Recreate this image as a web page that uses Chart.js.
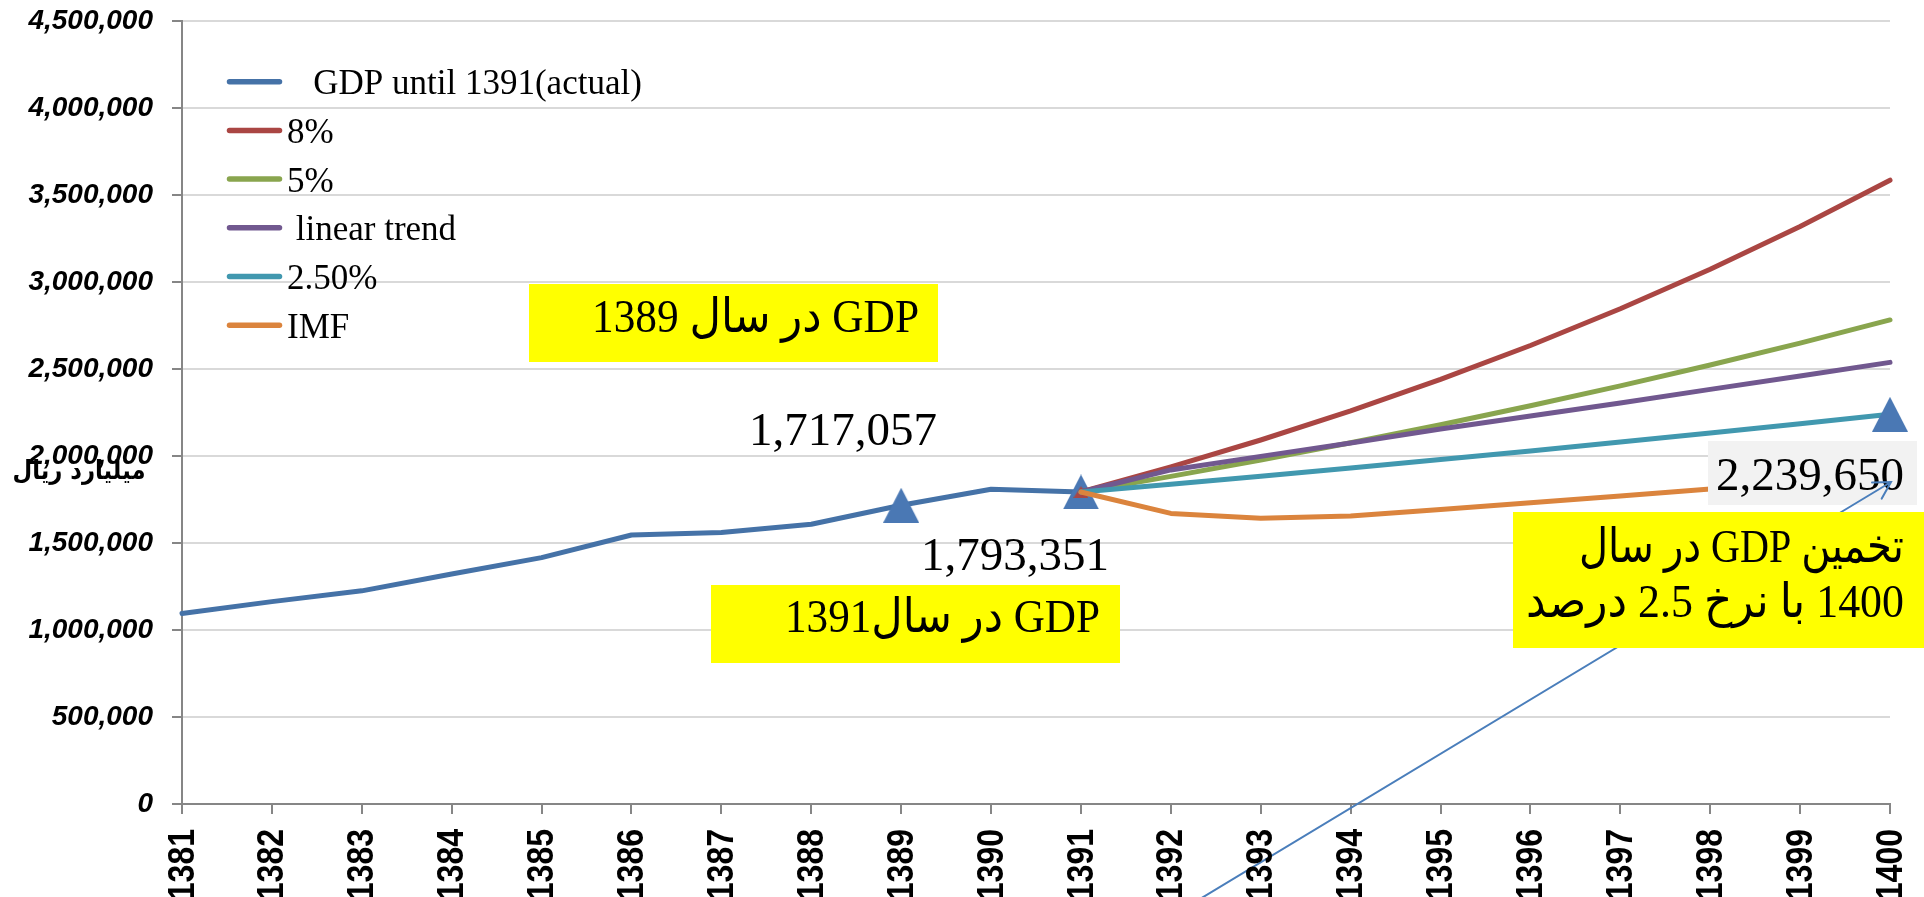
<!DOCTYPE html>
<html>
<head>
<meta charset="utf-8">
<title>GDP projection</title>
<script src="https://cdn.jsdelivr.net/npm/chart.js@4.4.0/dist/chart.umd.min.js"></script>
<style>
  html, body { margin: 0; padding: 0; background: #fff; overflow: hidden; }
  #wrap { width: 1924px; height: 897px; position: relative; }
</style>
</head>
<body>
<div id="wrap"><canvas id="gdpChart"></canvas></div>
<script>
// years (solar hijri) on the x axis
const years = ['1381', '1382', '1383', '1384', '1385', '1386', '1387', '1388', '1389', '1390',
               '1391', '1392', '1393', '1394', '1395', '1396', '1397', '1398', '1399', '1400'];

// billion rial
const actualGDP = [1095000, 1163000, 1225000, 1322000, 1416000, 1546000, 1560000, 1608000, 1717057, 1809000,
                   1793351, null, null, null, null, null, null, null, null, null];
const growth8 = [null, null, null, null, null, null, null, null, null, null,
                 1793351, 1937000, 2092000, 2259000, 2440000, 2635000, 2846000, 3073000, 3319000, 3585000];
const growth5 = [null, null, null, null, null, null, null, null, null, null,
                 1793351, 1883000, 1977000, 2076000, 2180000, 2289000, 2403000, 2523000, 2649000, 2782000];
const linearTrend = [null, null, null, null, null, null, null, null, null, null,
                     1793351, 1920000, 1998000, 2075000, 2155000, 2230000, 2305000, 2383000, 2460000, 2538000];
const growth25 = [null, null, null, null, null, null, null, null, null, null,
                  1793351, 1838000, 1884000, 1931000, 1980000, 2029000, 2080000, 2132000, 2185000, 2239650];
const imfForecast = [null, null, null, null, null, null, null, null, null, null,
                     1793351, 1670000, 1642000, 1655000, 1692000, 1731000, 1770000, 1810000, 1852000, 1895000];

const yTicksMax = 4500000;
const yTicksStep = 500000;

// years that get a triangle marker
const actualMarks = ['1389', '1391'];
const redMarks = ['1391'];
const tealMarks = ['1400'];

// triangle marker images (excel-like, isoceles)
function makeTriangle(w, h, color) {
  const c = document.createElement('canvas');
  c.width = w;
  c.height = h;
  const g = c.getContext('2d');
  g.fillStyle = color;
  g.beginPath();
  g.moveTo(w / 2, 0);
  g.lineTo(w, h);
  g.lineTo(0, h);
  g.closePath();
  g.fill();
  return c;
}
const bigTri = makeTriangle(36, 35, '#4a78b4');
const smallTri = makeTriangle(15, 12, '#aa4643');

function markAt(list, size) {
  return ctx => list.includes(years[ctx.dataIndex]) ? size : 0;
}

const serif = '"Liberation Serif", "Times New Roman", "DejaVu Sans", serif';

// right-aligned rtl text squeezed to the width it has in the original
function fitText(c, text, xRight, y, width) {
  c.save();
  c.direction = 'rtl';
  c.textAlign = 'right';
  const w = c.measureText(text).width;
  c.translate(xRight, y);
  c.scale(width / w, 1);
  c.fillText(text, 0, 0);
  c.restore();
}

// draws the text boxes, arrow, legend, axis title and x labels
const overlays = {
  id: 'overlays',
  afterDatasetsDraw(chart) {
    const c = chart.ctx;
    c.save();
    c.font = '47px ' + serif;
    c.textBaseline = 'alphabetic';

    // GDP 1389 box
    c.fillStyle = '#ffff00';
    c.fillRect(529, 284, 409, 78);
    c.fillStyle = '#000';
    fitText(c, 'GDP در سال 1389', 919, 332, 327);

    // plain value labels
    c.direction = 'ltr';
    c.textAlign = 'left';
    c.fillText('1,717,057', 749, 445);
    c.fillText('1,793,351', 921, 570);

    // GDP 1391 box
    c.fillStyle = '#ffff00';
    c.fillRect(711, 585, 409, 78);
    c.fillStyle = '#000';
    fitText(c, 'GDP در سال1391', 1100, 632, 315);

    // 2,239,650 label
    c.fillStyle = '#f2f2f2';
    c.fillRect(1708, 441, 209, 64);
    c.fillStyle = '#000';
    c.direction = 'ltr';
    c.textAlign = 'left';
    c.fillText('2,239,650', 1716, 490);

    // arrow to the 1400 estimate
    const x0 = 1190, y0 = 905, x1 = 1891, y1 = 482;
    c.strokeStyle = '#4a7ebb';
    c.lineWidth = 2;
    c.lineCap = 'round';
    c.beginPath();
    c.moveTo(x0, y0);
    c.lineTo(x1, y1);
    const ang = Math.atan2(y0 - y1, x0 - x1);
    const arm = 19;
    c.moveTo(x1 + arm * Math.cos(ang + 0.52), y1 + arm * Math.sin(ang + 0.52));
    c.lineTo(x1, y1);
    c.lineTo(x1 + arm * Math.cos(ang - 0.52), y1 + arm * Math.sin(ang - 0.52));
    c.stroke();

    // estimate box
    c.fillStyle = '#ffff00';
    c.fillRect(1513, 512, 411, 136);
    c.fillStyle = '#000';
    fitText(c, 'تخمین GDP در سال', 1904, 562, 325);
    fitText(c, '1400 با نرخ 2.5 درصد', 1904, 617, 378);

    c.restore();
  },
  afterDraw(chart) {
    const c = chart.ctx;
    c.save();

    // legend inside the plot
    chart.data.datasets.forEach((ds, i) => {
      const y = 81.7 + i * 48.7;
      c.strokeStyle = ds.borderColor;
      c.lineWidth = 5.5;
      c.lineCap = 'round';
      c.beginPath();
      c.moveTo(229.5, y);
      c.lineTo(279.5, y);
      c.stroke();
      c.fillStyle = '#000';
      c.font = '35px ' + serif;
      c.textAlign = 'left';
      c.textBaseline = 'alphabetic';
      c.direction = 'ltr';
      c.fillText(ds.label, 287, y + 12.5);
    });

    // y axis title
    c.font = 'bold 26px "DejaVu Sans", sans-serif';
    c.direction = 'rtl';
    c.textAlign = 'center';
    c.textBaseline = 'middle';
    const title = 'میلیارد ریال';
    const w = c.measureText(title).width;
    c.translate(79, 472);
    c.scale(133 / w, 1);
    c.fillText(title, 0, 0);
    c.setTransform(1, 0, 0, 1, 0, 0);

    // rotated x labels
    const xs = chart.scales.x;
    c.direction = 'ltr';
    c.font = 'bold 32px "Liberation Sans", Arial, sans-serif';
    c.textAlign = 'right';
    c.textBaseline = 'middle';
    years.forEach((yr, i) => {
      c.save();
      c.translate(xs.getPixelForTick(i), 829);
      c.rotate(-Math.PI / 2);
      c.scale(1, 1.18);
      c.fillText(yr, 0, 1);
      c.restore();
    });

    c.restore();
  }
};

const base = {
  borderWidth: 5,
  fill: false,
  tension: 0,
  borderCapStyle: 'round',
  borderJoinStyle: 'round',
  clip: false,
  pointBorderWidth: 0
};

const ctx = document.getElementById('gdpChart').getContext('2d');
const gdpChart = new Chart(ctx, {
  type: 'line',
  data: {
    labels: years,
    datasets: [
      Object.assign({}, base, {
        label: '   GDP until 1391(actual)',
        data: actualGDP,
        borderColor: '#4572a7',
        order: 10,
        pointStyle: bigTri,
        pointRadius: markAt(actualMarks, 18)
      }),
      Object.assign({}, base, {
        label: '8%',
        data: growth8,
        borderColor: '#aa4643',
        order: 5,
        pointStyle: smallTri,
        pointRadius: markAt(redMarks, 7)
      }),
      Object.assign({}, base, {
        label: '5%',
        data: growth5,
        borderColor: '#89a54e',
        order: 4,
        pointRadius: 0
      }),
      Object.assign({}, base, {
        label: ' linear trend',
        data: linearTrend,
        borderColor: '#71588f',
        order: 3,
        pointRadius: 0
      }),
      Object.assign({}, base, {
        label: '2.50%',
        data: growth25,
        borderColor: '#4198af',
        order: 2,
        pointStyle: bigTri,
        pointRadius: markAt(tealMarks, 18)
      }),
      Object.assign({}, base, {
        label: 'IMF',
        data: imfForecast,
        borderColor: '#db843d',
        order: 1,
        pointRadius: 0
      })
    ]
  },
  options: {
    responsive: true,
    maintainAspectRatio: false,
    animation: false,
    events: [],
    layout: { padding: { top: 21, right: 34, left: 0, bottom: 0 } },
    plugins: {
      legend: { display: false },
      tooltip: { enabled: false }
    },
    scales: {
      x: {
        grid: {
          drawOnChartArea: false,
          drawTicks: true,
          tickLength: 10,
          color: '#868686',
          lineWidth: 2
        },
        border: { color: '#868686', width: 2 },
        ticks: { display: false },
        afterFit: s => {
          s.height = 93;
          s.paddingLeft = 0;
          s.paddingRight = 0;
        }
      },
      y: {
        min: 0,
        max: yTicksMax,
        grid: {
          color: '#d9d9d9',
          lineWidth: 2,
          tickColor: '#868686',
          tickLength: 10
        },
        border: { color: '#868686', width: 2 },
        ticks: {
          stepSize: yTicksStep,
          color: '#000',
          padding: 19,
          font: { family: '"Liberation Sans", Arial, sans-serif', size: 28, weight: 'bold', style: 'italic' },
          callback: v => v.toLocaleString('en-US')
        },
        afterFit: s => {
          s.width = 182;
          s.paddingTop = 0;
          s.paddingBottom = 0;
        }
      }
    }
  },
  plugins: [overlays]
});
</script>
</body>
</html>
